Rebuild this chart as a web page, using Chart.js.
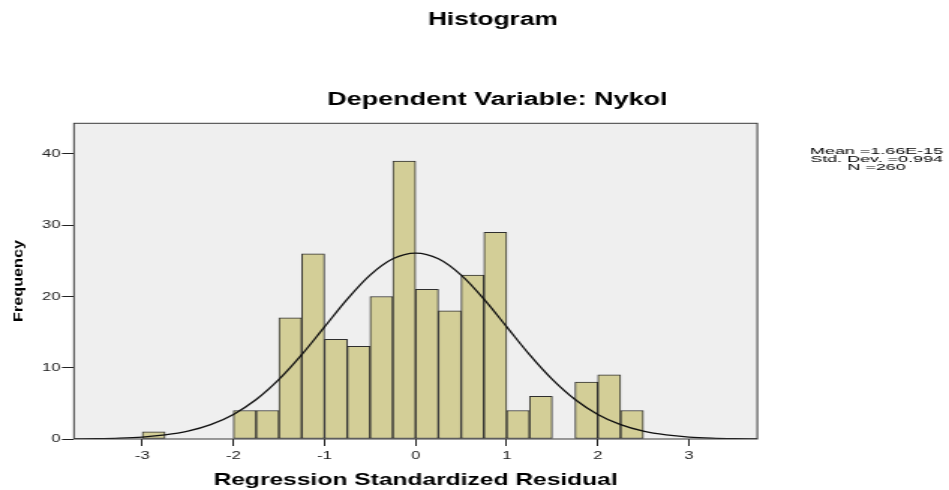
<!DOCTYPE html>
<html>
<head>
<meta charset="utf-8">
<title>Histogram</title>
<script src="https://cdn.jsdelivr.net/npm/chart.js@4.4.1/dist/chart.umd.min.js"></script>
<style>
  html, body { margin: 0; padding: 0; background: #fff; }
  canvas { display: block; }
</style>
</head>
<body>
<!-- the SPSS export is stretched sideways, so the canvas is drawn narrow and widened by css -->
<canvas id="histChart" width="633" height="490" style="width:949px;height:490px"></canvas>
<script>
// bins are 0.25 wide, given by their lower edge
const binLefts = [-3.00, -2.75, -2.50, -2.25, -2.00, -1.75, -1.50, -1.25, -1.00, -0.75, -0.50,
                  -0.25, 0.00, 0.25, 0.50, 0.75, 1.00, 1.25, 1.50, 1.75, 2.00, 2.25];
const counts   = [1, 0, 0, 0, 4, 4, 17, 26, 14, 13, 20,
                  39, 21, 18, 23, 29, 4, 6, 0, 8, 9, 4];
const binWidth = 0.25;

// normal curve, heights
const curveX = [-3.75, -3.5, -3.25, -3.0, -2.75, -2.5, -2.25, -2.0, -1.75, -1.5, -1.25, -1.0, -0.75, -0.5, -0.25,
                0.0, 0.25, 0.5, 0.75, 1.0, 1.25, 1.5, 1.75, 2.0, 2.25, 2.5, 2.75, 3.0, 3.25, 3.5, 3.75];
const curveY = [0.02, 0.05, 0.12, 0.27, 0.57, 1.10, 2.01, 3.45, 5.54, 8.36, 11.83, 15.73, 19.63, 22.99, 25.28,
                26.09, 25.28, 22.99, 19.63, 15.73, 11.83, 8.36, 5.54, 3.45, 2.01, 1.10, 0.57, 0.27, 0.12, 0.05, 0.02];

const xTicks = [-3, -2, -1, 0, 1, 2, 3];
const yTicks = [0, 10, 20, 30, 40];
const statsLines = ['Mean =1.66E-15', 'Std. Dev. =0.994', 'N =260'];

const FONT = "'Liberation Sans', Arial, sans-serif";
Chart.defaults.font.family = FONT;

// grey plot panel, frame and the free text of the SPSS chart
const spssDecor = {
    id: 'spssDecor',
    beforeDraw(chart) {
        const { ctx, chartArea: a, width, height } = chart;
        ctx.save();
        ctx.fillStyle = '#ffffff';
        ctx.fillRect(0, 0, width, height);
        ctx.fillStyle = '#efefef';
        ctx.fillRect(a.left, a.top, a.right - a.left, a.bottom - a.top);
        ctx.restore();
    },
    afterDraw(chart) {
        const { ctx, chartArea: a } = chart;
        ctx.save();
        ctx.strokeStyle = '#3a3a3a';
        ctx.lineWidth = 1;
        ctx.strokeRect(a.left, a.top, a.right - a.left, a.bottom - a.top);

        ctx.fillStyle = '#000';
        ctx.textAlign = 'center';
        ctx.textBaseline = 'alphabetic';
        ctx.font = 'bold 17.5px ' + FONT;
        ctx.fillText('Histogram', 328.7, 25);
        ctx.font = 'bold 18px ' + FONT;
        ctx.fillText('Dependent Variable: Nykol', 331.7, 105);

        ctx.font = '9px ' + FONT;
        statsLines.forEach((t, i) => {
            ctx.save();
            ctx.translate(584.7, 154 + i * 8);
            ctx.scale(1.33, 1);
            ctx.fillText(t, 0, 0);
            ctx.restore();
        });

        ctx.save();
        ctx.translate(12.2, 281);
        ctx.scale(0.6, 1);
        ctx.rotate(-Math.PI / 2);
        ctx.textBaseline = 'middle';
        ctx.font = 'bold 16.2px ' + FONT;
        ctx.fillText('Frequency', 0, 0);
        ctx.restore();

        ctx.restore();
    }
};

new Chart(document.getElementById('histChart'), {
    type: 'bar',
    data: {
        datasets: [
            {
                type: 'line',
                data: curveX.map((x, i) => ({ x: x, y: curveY[i] })),
                borderColor: '#111',
                borderWidth: 1.3,
                pointRadius: 0,
                fill: false,
                cubicInterpolationMode: 'monotone',
                order: 0
            },
            {
                type: 'bar',
                data: binLefts.map((b, i) => ({ x: b + binWidth / 2, y: counts[i] })).filter(p => p.y > 0),
                backgroundColor: '#d3ce97',
                borderColor: '#2e2e2e',
                borderWidth: 1,
                borderSkipped: false,
                barPercentage: 1,
                categoryPercentage: 1,
                grouped: false,
                order: 1
            }
        ]
    },
    options: {
        responsive: false,
        animation: false,
        devicePixelRatio: 1,
        layout: { padding: { left: 0, right: 127.9, top: 123.3, bottom: 0 } },
        plugins: { legend: { display: false }, tooltip: { enabled: false } },
        scales: {
            x: {
                type: 'linear',
                min: -3.75,
                max: 3.75,
                offset: false,
                afterBuildTicks: s => { s.ticks = xTicks.map(v => ({ value: v })); },
                afterFit: s => { s.height = 51; },
                ticks: { padding: 3, color: '#222', font: { size: 11 }, maxRotation: 0, autoSkip: false,
                         callback: v => String(v) },
                grid: { offset: false, drawOnChartArea: false, drawTicks: true, tickLength: 7, color: '#222' },
                border: { display: false },
                title: { display: true, text: 'Regression Standardized Residual', color: '#000',
                         font: { size: 16.4, weight: 'bold' }, padding: { top: 0, bottom: 0 } }
            },
            y: {
                min: 0,
                max: 44.3,
                afterBuildTicks: s => { s.ticks = yTicks.map(v => ({ value: v })); },
                afterFit: s => { s.width = 49.33; },
                ticks: { padding: 1, color: '#222', font: { size: 11 }, callback: v => String(v) },
                grid: { drawOnChartArea: false, drawTicks: true, tickLength: 8, color: '#222' },
                border: { display: false }
            }
        }
    },
    plugins: [spssDecor]
});
</script>
</body>
</html>
